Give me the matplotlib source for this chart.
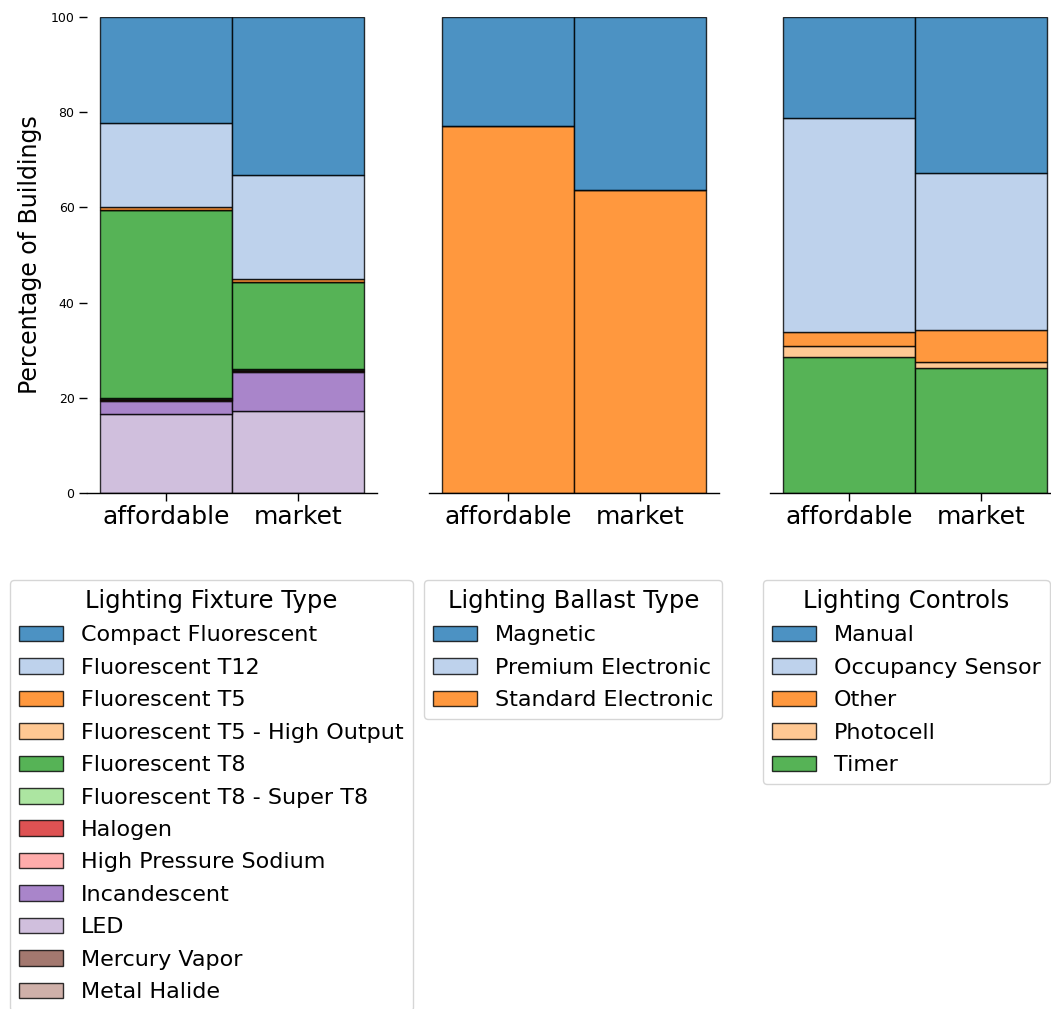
import matplotlib
matplotlib.use("Agg")
import matplotlib.pyplot as plt
from matplotlib.patches import Patch
import numpy as np

# Building groups shown on each x axis
groups = ["affordable", "market"]

# Lighting fixture type shares (% of buildings), listed in legend order
fixture_types = [
    "Compact Fluorescent", "Fluorescent T12", "Fluorescent T5",
    "Fluorescent T5 - High Output", "Fluorescent T8", "Fluorescent T8 - Super T8",
    "Halogen", "High Pressure Sodium", "Incandescent", "LED",
    "Mercury Vapor", "Metal Halide",
]
fixture_affordable = [22.3, 17.6, 0.6, 0.0, 39.6, 0.2, 0.2, 0.2, 2.7, 16.6, 0.0, 0.0]
fixture_market = [33.1, 22.0, 0.5, 0.0, 18.3, 0.2, 0.2, 0.2, 8.2, 17.3, 0.0, 0.0]

# Lighting ballast type shares (%)
ballast_types = ["Magnetic", "Premium Electronic", "Standard Electronic"]
ballast_affordable = [23.0, 0.0, 77.0]
ballast_market = [36.3, 0.0, 63.7]

# Lighting control shares (%)
control_types = ["Manual", "Occupancy Sensor", "Other", "Photocell", "Timer"]
control_affordable = [21.2, 45.0, 2.9, 2.4, 28.5]
control_market = [32.8, 33.0, 6.6, 1.4, 26.2]

panels = [
    ("Lighting Fixture Type", fixture_types, fixture_affordable, fixture_market),
    ("Lighting Ballast Type", ballast_types, ballast_affordable, ballast_market),
    ("Lighting Controls", control_types, control_affordable, control_market),
]

W, H = 1051, 1009
fig = plt.figure(figsize=(W / 100, H / 100), dpi=100)
palette = plt.get_cmap("tab20").colors
ALPHA = 0.8

ax_left_px = [87, 429, 770]
legend_left_px = [10, 424, 763]
ax_w, ax_top, ax_bottom = 290, 17, 493

x = np.arange(len(groups))
for i, (title, cats, aff, mkt) in enumerate(panels):
    ax = fig.add_axes([ax_left_px[i] / W, 1 - ax_bottom / H,
                       ax_w / W, (ax_bottom - ax_top) / H])
    data = np.array([aff, mkt]).T  # rows: categories, cols: groups
    bottoms = np.zeros(len(groups))
    # stack from the last category (bottom) up to the first (top)
    for k in range(len(cats) - 1, -1, -1):
        ax.bar(x, data[k], bottom=bottoms, width=1.0, color=palette[k],
               edgecolor="black", linewidth=1.0, alpha=ALPHA)
        bottoms += data[k]

    ax.set_xlim(-0.6, 1.6)
    ax.set_ylim(0, 100)
    ax.set_xticks(x)
    ax.set_xticklabels(groups, fontsize=18)
    ax.tick_params(length=5.5, width=1.0)
    for side in ("top", "right", "left"):
        ax.spines[side].set_visible(False)
    ax.spines["bottom"].set_linewidth(1.0)
    if i == 0:
        ax.set_yticks([0, 20, 40, 60, 80, 100])
        ax.tick_params(axis="y", labelsize=9)
        ax.set_ylabel("Percentage of Buildings", fontsize=17, labelpad=6)
    else:
        ax.set_yticks([])

    handles = [Patch(facecolor=palette[k], edgecolor="black", linewidth=1.0,
                     alpha=ALPHA) for k in range(len(cats))]
    fig.legend(handles, cats, loc="upper left",
               bbox_to_anchor=(legend_left_px[i] / W, 1 - 580 / H),
               borderaxespad=0, title=title, fontsize=16, title_fontsize=17.5,
               labelspacing=0.56)

fig.savefig("out.png", dpi=100)
